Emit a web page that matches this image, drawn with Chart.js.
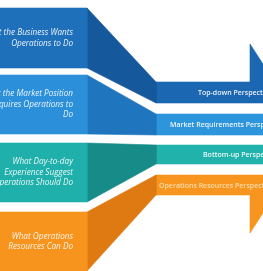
<!DOCTYPE html>
<html>
<head>
<meta charset="utf-8">
<script src="https://cdn.jsdelivr.net/npm/chart.js@4.4.1/dist/chart.umd.min.js"></script>
<style>
  html, body { margin: 0; padding: 0; background: #fff; overflow: hidden; }
  #wrap { width: 263px; height: 271px; }
</style>
</head>
<body>
<div id="wrap"><canvas id="c" width="263" height="271"></canvas></div>
<script>
// left block captions, one row per band
const BAND_TEXT = [
    [ 'What the Business Wants', 'Operations to Do' ],
    [ 'What the Market Position', 'Requires Operations to', 'Do' ],
    [ 'What Day-to-day', 'Experience Suggest', 'Operations Should Do' ],
    [ 'What Operations', 'Resources Can Do' ],
];
const PERSPECTIVES = [ 'Top-down Perspective', 'Market Requirements Perspective', 'Bottom-up Perspective', 'Operations Resources Perspective' ];

// band levels (top/bottom) on the left block and on the right strip
const LEFT_TOP     = [ 8, 75, 143, 212 ];
const LEFT_BOTTOM  = [ 68, 134, 202, 271 ];
const RIGHT_TOP    = [ 82, 114, 145, 175 ];
const RIGHT_BOTTOM = [ 103, 135, 164, 195 ];

// stages along x: block start, block end, slant end, strip end
const STAGES = [ 0, 87, 156, 263 ];

// bracket tips at the right edge (top one rises, bottom one falls)
const TIP_TOP    = [ 44, 64 ];
const TIP_BOTTOM = [ 233, 213 ];

// where each perspective label starts in its strip
const LABEL_X = [ 198, 170, 203, 159 ];

const FRONT = [ '#1e70bb', '#2b90d9', '#20b0ab', '#f7941e' ];
const SIDE  = [ '#15589b', '#1f76bf', '#178b88', '#df7a12' ];
const STRIP = [ '#1b67b1', '#2d95dc', '#22b2ac', '#f7951f' ];

const [ x0, x1, x2, x3 ] = STAGES;

function poly( pts, colour ) {
    return {
        data: pts.concat( [ pts[ 0 ] ] ).map( ( [ x, y ] ) => ( { x, y } ) ),
        backgroundColor: colour,
        borderColor: colour,
        borderWidth: 0.6,
        pointRadius: 0,
        tension: 0,
        fill: 'shape',
    };
}

const datasets = [];
LEFT_TOP.forEach( ( lt, i ) => {
    const lb = LEFT_BOTTOM[ i ], rt = RIGHT_TOP[ i ], rb = RIGHT_BOTTOM[ i ];
    datasets.push( poly( [ [ x0, lt ], [ x1, lt ], [ x1, lb ], [ x0, lb ] ], FRONT[ i ] ) );
    datasets.push( poly( [ [ x1, lt ], [ x2, rt ], [ x2, rb ], [ x1, lb ] ], SIDE[ i ] ) );
    datasets.push( poly( [ [ x2, rt ], [ x3, rt ], [ x3, rb ], [ x2, rb ] ], STRIP[ i ] ) );
} );
datasets.push( poly( [ [ 250, TIP_TOP[ 0 ] ], [ x3, TIP_TOP[ 1 ] ], [ x3, RIGHT_TOP[ 0 ] ], [ 250, RIGHT_TOP[ 0 ] ] ], STRIP[ 0 ] ) );
datasets.push( poly( [ [ 250, RIGHT_BOTTOM[ 3 ] ], [ x3, RIGHT_BOTTOM[ 3 ] ], [ x3, TIP_BOTTOM[ 1 ] ], [ 250, TIP_BOTTOM[ 0 ] ] ], STRIP[ 3 ] ) );

const captions = {
    id: 'captions',
    afterDatasetsDraw( chart ) {
        const { ctx, scales: { x, y } } = chart;
        ctx.save();
        ctx.textBaseline = 'middle';

        ctx.fillStyle = 'rgba(255,255,255,.9)';
        ctx.font = 'italic 8.2px "Open Sans", sans-serif';
        ctx.textAlign = 'right';
        BAND_TEXT.forEach( ( lines, i ) => {
            const mid = ( LEFT_TOP[ i ] + LEFT_BOTTOM[ i ] ) / 2;
            const start = mid - ( lines.length - 1 ) * 5.3;
            lines.forEach( ( s, k ) => {
                ctx.fillText( s, x.getPixelForValue( 73 ), y.getPixelForValue( start + k * 10.6 ) );
            } );
        } );

        ctx.font = '600 7px "Open Sans", sans-serif';
        ctx.textAlign = 'left';
        PERSPECTIVES.forEach( ( s, i ) => {
            const mid = ( RIGHT_TOP[ i ] + RIGHT_BOTTOM[ i ] ) / 2;
            ctx.fillStyle = i === 3 ? 'rgba(255,235,200,.8)' : 'rgba(255,255,255,.9)';
            ctx.fillText( s, x.getPixelForValue( LABEL_X[ i ] ), y.getPixelForValue( mid + 0.5 ) );
        } );
        ctx.restore();
    },
};

new Chart( document.getElementById( 'c' ), {
    type: 'line',
    data: { datasets },
    options: {
        responsive: false,
        animation: false,
        events: [],
        layout: { padding: 0 },
        plugins: { legend: { display: false }, tooltip: { enabled: false } },
        scales: {
            x: { type: 'linear', min: 0, max: 263, display: false },
            y: { type: 'linear', min: 0, max: 271, reverse: true, display: false },
        },
    },
    plugins: [ captions ],
} );
</script>
</body>
</html>
